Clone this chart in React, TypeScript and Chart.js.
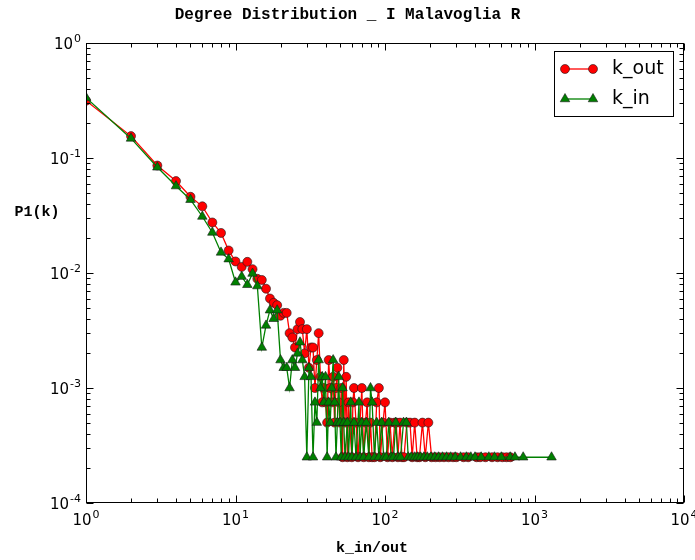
import React, { useEffect, useRef } from "react";
import { Chart, registerables } from "chart.js";

Chart.register(...registerables);

// Degree distribution: [k, P(k)] for out-degree and in-degree.
const outDegreePoints: [number, number][] = [
  [1, 0.315], [2, 0.155], [3, 0.086], [4, 0.063], [5, 0.046], [6, 0.038], [7, 0.0275], [8, 0.0223], [9, 0.0157], [10, 0.0126],
  [11, 0.0113], [12, 0.0125], [13, 0.0108], [14, 0.0089], [15, 0.0087], [16, 0.0073], [17, 0.006], [18, 0.0055], [19, 0.00525], [20, 0.00425],
  [21, 0.0045], [22, 0.0045], [23, 0.003], [24, 0.00275], [25, 0.00225], [26, 0.00325], [27, 0.00375], [28, 0.00325], [29, 0.002], [30, 0.00325],
  [31, 0.0015], [32, 0.00225], [33, 0.00225], [34, 0.001], [35, 0.00175], [36, 0.003], [37, 0.00125], [38, 0.00075], [39, 0.001], [40, 0.00075],
  [41, 0.0005], [42, 0.00175], [43, 0.001], [44, 0.00075], [45, 0.00125], [46, 0.0005], [47, 0.001], [48, 0.0015], [49, 0.00075], [50, 0.0005],
  [51, 0.001], [52, 0.00025], [53, 0.00175], [54, 0.0005], [55, 0.00125], [56, 0.00025], [57, 0.00075], [58, 0.0005], [60, 0.00025], [61, 0.00075],
  [62, 0.001], [64, 0.0005], [66, 0.00025], [68, 0.0005], [70, 0.001], [72, 0.00025], [74, 0.0005], [76, 0.00075], [78, 0.00025], [80, 0.0005],
  [82, 0.00025], [85, 0.00025], [88, 0.00075], [91, 0.001], [93, 0.00025], [97, 0.0005], [100, 0.00075], [104, 0.00025], [108, 0.0005], [112, 0.00025],
  [116, 0.0005], [119, 0.0005], [122, 0.00025], [126, 0.0005], [130, 0.00025], [134, 0.00025], [140, 0.0005], [147, 0.0005], [152, 0.00025], [158, 0.0005],
  [164, 0.00025], [170, 0.00025], [178, 0.0005], [186, 0.00025], [195, 0.0005], [205, 0.00025], [218, 0.00025], [232, 0.00025], [248, 0.00025], [266, 0.00025],
  [285, 0.00025], [300, 0.00025], [335, 0.00025], [360, 0.00025], [410, 0.00025], [433, 0.00025], [470, 0.00025], [520, 0.00025], [566, 0.00025], [610, 0.00025],
  [650, 0.00025], [690, 0.00025],
];

const inDegreePoints: [number, number][] = [
  [1, 0.335], [2, 0.148], [3, 0.083], [4, 0.057], [5, 0.0434], [6, 0.031], [7, 0.0225], [8, 0.0151], [9, 0.0132], [10, 0.0083],
  [11, 0.0093], [12, 0.0079], [13, 0.0099], [14, 0.0077], [15, 0.00225], [16, 0.0035], [17, 0.00475], [18, 0.004], [19, 0.00475], [20, 0.00175],
  [21, 0.0015], [22, 0.0015], [23, 0.001], [24, 0.00175], [25, 0.0015], [26, 0.002], [27, 0.0025], [28, 0.00175], [29, 0.00125], [30, 0.00025],
  [31, 0.0015], [32, 0.00125], [33, 0.00025], [34, 0.00075], [35, 0.0005], [36, 0.00175], [37, 0.001], [38, 0.00125], [39, 0.00075], [40, 0.00125],
  [41, 0.00025], [42, 0.00075], [43, 0.0005], [44, 0.001], [45, 0.00175], [46, 0.00075], [47, 0.00025], [48, 0.0005], [49, 0.00125], [50, 0.0005],
  [51, 0.00025], [52, 0.001], [53, 0.0005], [54, 0.00025], [56, 0.0005], [57, 0.00025], [59, 0.00075], [60, 0.00025], [62, 0.0005], [64, 0.00025],
  [67, 0.00075], [68, 0.00025], [70, 0.0005], [72, 0.00025], [75, 0.0005], [78, 0.00025], [80, 0.001], [82, 0.00075], [85, 0.00025], [88, 0.0005],
  [91, 0.00025], [95, 0.0005], [98, 0.00025], [102, 0.00025], [106, 0.0005], [110, 0.00025], [114, 0.00025], [118, 0.0005], [122, 0.00025], [127, 0.00025],
  [133, 0.0005], [139, 0.0005], [143, 0.00025], [150, 0.00025], [158, 0.00025], [165, 0.00025], [173, 0.00025], [182, 0.00025], [192, 0.00025], [203, 0.00025],
  [215, 0.00025], [228, 0.00025], [242, 0.00025], [258, 0.00025], [275, 0.00025], [295, 0.00025], [320, 0.00025], [350, 0.00025], [375, 0.00025], [400, 0.00025],
  [440, 0.00025], [495, 0.00025], [540, 0.00025], [600, 0.00025], [688, 0.00025], [740, 0.00025], [840, 0.00025], [1300, 0.00025],
];

const seriesNames = ["k_out", "k_in"];
const xTickExponents = [0, 1, 2, 3, 4];
const yTickExponents = [0, -1, -2, -3, -4];

const TITLE = "Degree Distribution _ I Malavoglia R";
const X_LABEL = "k_in/out";
const Y_LABEL = "P1(k)";

const RED = "#ff0000";
const GREEN = "#008000";
const EDGE = "#1a1a1a";
const TICK_FONT = "'DejaVu Sans', sans-serif";
const MONO_FONT = "'Liberation Mono', 'DejaVu Sans Mono', monospace";

// "10" with a raised exponent, as on a log axis
function drawPower(ctx: CanvasRenderingContext2D, exp: number, x: number, y: number, align: "right" | "center") {
  const base = "10";
  const sup = String(exp);
  ctx.font = `15px ${TICK_FONT}`;
  const wb = ctx.measureText(base).width;
  ctx.font = `11px ${TICK_FONT}`;
  const ws = ctx.measureText(sup).width;
  const total = wb + ws + 1;
  const start = align === "right" ? x - total : x - total / 2;
  ctx.textAlign = "left";
  ctx.textBaseline = "middle";
  ctx.font = `15px ${TICK_FONT}`;
  ctx.fillText(base, start, y);
  ctx.font = `11px ${TICK_FONT}`;
  ctx.fillText(sup, start + wb + 1, y - 6);
}

function drawMarker(ctx: CanvasRenderingContext2D, kind: "circle" | "triangle", x: number, y: number, fill: string) {
  ctx.beginPath();
  if (kind === "circle") {
    ctx.arc(x, y, 4.5, 0, Math.PI * 2);
  } else {
    const r = 5.5;
    ctx.moveTo(x, y - r);
    ctx.lineTo(x + r * Math.sin((2 * Math.PI) / 3), y - r * Math.cos((2 * Math.PI) / 3));
    ctx.lineTo(x + r * Math.sin((4 * Math.PI) / 3), y - r * Math.cos((4 * Math.PI) / 3));
    ctx.closePath();
  }
  ctx.fillStyle = fill;
  ctx.fill();
  ctx.lineWidth = 0.6;
  ctx.strokeStyle = EDGE;
  ctx.stroke();
}

const decorations = {
  id: "decorations",
  afterDatasetsDraw(chart: any) {
    const { ctx, chartArea: a, scales } = chart;
    const xs = scales.x;
    const ys = scales.y;
    ctx.save();

    // axes frame
    ctx.strokeStyle = "#000";
    ctx.lineWidth = 1;
    const L = Math.round(a.left) + 0.5;
    const T = Math.round(a.top) + 0.5;
    const R = Math.round(a.right) - 0.5;
    const B = Math.round(a.bottom) - 0.5;
    ctx.strokeRect(L, T, R - L, B - T);

    // inward major/minor ticks on all four sides
    const major = 7;
    const minor = 4;
    ctx.beginPath();
    for (let e = 0; e <= 4; e++) {
      for (let m = 1; m <= 9; m++) {
        if (e === 4 && m > 1) break;
        const v = m * Math.pow(10, e);
        const len = m === 1 ? major : minor;
        const px = Math.round(xs.getPixelForValue(v)) + 0.5;
        ctx.moveTo(px, B);
        ctx.lineTo(px, B - len);
        ctx.moveTo(px, T);
        ctx.lineTo(px, T + len);
      }
    }
    for (let e = -4; e <= 0; e++) {
      for (let m = 1; m <= 9; m++) {
        if (e === 0 && m > 1) break;
        const v = m * Math.pow(10, e);
        const len = m === 1 ? major : minor;
        const py = Math.round(ys.getPixelForValue(v)) + 0.5;
        ctx.moveTo(L, py);
        ctx.lineTo(L + len, py);
        ctx.moveTo(R, py);
        ctx.lineTo(R - len, py);
      }
    }
    ctx.stroke();

    // tick labels
    ctx.fillStyle = "#000";
    xTickExponents.forEach((e) => {
      const px = xs.getPixelForValue(Math.pow(10, e));
      drawPower(ctx, e, px, a.bottom + 18, "center");
    });
    yTickExponents.forEach((e) => {
      const py = ys.getPixelForValue(Math.pow(10, e));
      drawPower(ctx, e, a.left - 5, py + 2, "right");
    });

    // titles
    ctx.fillStyle = "#000";
    ctx.textAlign = "center";
    ctx.textBaseline = "middle";
    ctx.font = `bold 16px ${MONO_FONT}`;
    ctx.fillText(TITLE, chart.width / 2, 15);
    ctx.font = `bold 15px ${MONO_FONT}`;
    ctx.fillText(X_LABEL, 372, 548);
    ctx.fillText(Y_LABEL, 37, 212);

    // legend
    const bx = 554.5;
    const by = 51.5;
    ctx.fillStyle = "#fff";
    ctx.fillRect(bx, by, 119, 65);
    ctx.strokeStyle = "#000";
    ctx.lineWidth = 1;
    ctx.strokeRect(bx, by, 119, 65);
    const rows: [string, string, "circle" | "triangle", number][] = [
      [seriesNames[0], RED, "circle", 69],
      [seriesNames[1], GREEN, "triangle", 99],
    ];
    rows.forEach(([name, color, kind, y]) => {
      ctx.strokeStyle = color;
      ctx.lineWidth = 1.3;
      ctx.beginPath();
      ctx.moveTo(565, y);
      ctx.lineTo(593, y);
      ctx.stroke();
      drawMarker(ctx, kind, 565, y, color);
      drawMarker(ctx, kind, 593, y, color);
      ctx.fillStyle = "#000";
      ctx.font = `19px ${TICK_FONT}`;
      ctx.textAlign = "left";
      ctx.textBaseline = "middle";
      ctx.fillText(name, 612, y);
    });

    ctx.restore();
  },
};

const whiteBackground = {
  id: "whiteBackground",
  beforeDraw(chart: any) {
    const { ctx } = chart;
    ctx.save();
    ctx.fillStyle = "#fff";
    ctx.fillRect(0, 0, chart.width, chart.height);
    ctx.restore();
  },
};

export default function App() {
  const canvasRef = useRef<HTMLCanvasElement | null>(null);

  useEffect(() => {
    const canvas = canvasRef.current;
    if (!canvas) return;
    const chart = new Chart(canvas, {
      type: "line",
      data: {
        datasets: [
          {
            label: seriesNames[0],
            data: outDegreePoints.map(([k, p]) => ({ x: k, y: p })),
            borderColor: RED,
            backgroundColor: RED,
            borderWidth: 1.3,
            pointStyle: "circle",
            pointRadius: 4.5,
            pointBackgroundColor: RED,
            pointBorderColor: EDGE,
            pointBorderWidth: 0.6,
            tension: 0,
            clip: 0,
            order: 2,
          },
          {
            label: seriesNames[1],
            data: inDegreePoints.map(([k, p]) => ({ x: k, y: p })),
            borderColor: GREEN,
            backgroundColor: GREEN,
            borderWidth: 1.3,
            pointStyle: "triangle",
            pointRadius: 5.5,
            pointBackgroundColor: GREEN,
            pointBorderColor: EDGE,
            pointBorderWidth: 0.6,
            tension: 0,
            clip: 0,
            order: 1,
          },
        ],
      },
      options: {
        responsive: false,
        animation: false,
        devicePixelRatio: 1,
        events: [],
        layout: { padding: { left: 86, top: 43, right: 11, bottom: 57 } },
        plugins: {
          legend: { display: false },
          title: { display: false },
          tooltip: { enabled: false },
        },
        scales: {
          x: {
            type: "logarithmic",
            min: 1,
            max: 10000,
            grid: { display: false },
            border: { display: false },
            ticks: { display: false },
            afterFit: (s: any) => {
              s.height = 0;
            },
          },
          y: {
            type: "logarithmic",
            min: 1e-4,
            max: 1,
            grid: { display: false },
            border: { display: false },
            ticks: { display: false },
            afterFit: (s: any) => {
              s.width = 0;
            },
          },
        },
      },
      plugins: [whiteBackground, decorations],
    });
    return () => chart.destroy();
  }, []);

  return (
    <div style={{ position: "fixed", left: 0, top: 0, width: 695, height: 560, background: "#fff" }}>
      <canvas ref={canvasRef} width={695} height={560} />
    </div>
  );
}
